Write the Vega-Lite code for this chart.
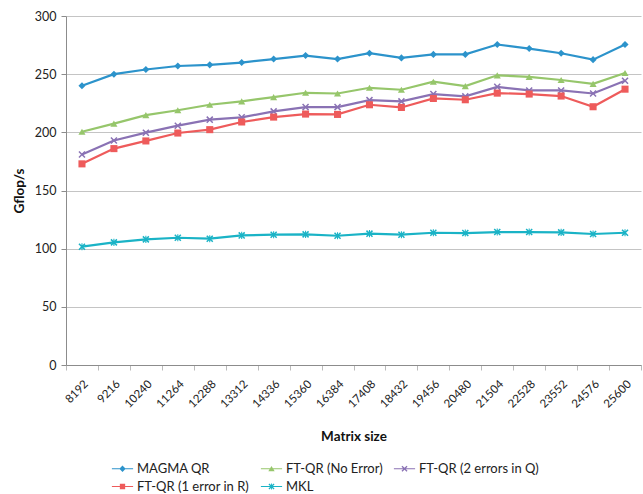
{
  "$schema": "https://vega.github.io/schema/vega-lite/v6.json",
  "width": 575,
  "height": 349,
  "autosize": {"type": "none"},
  "padding": {"left": 66, "top": 16, "right": 2, "bottom": 129},
  "background": "white",
  "config": {
    "font": "Lato",
    "view": {"stroke": null},
    "axis": {
      "labelFont": "Lato",
      "titleFont": "Lato",
      "labelColor": "#222",
      "titleColor": "#111",
      "titleFontWeight": "bold",
      "titleFontSize": 13.5,
      "domainColor": "#8c8c8c",
      "gridColor": "#c4c4c4",
      "tickColor": "#bbbbbb"
    },
    "legend": {
      "orient": "none",
      "legendX": 50,
      "legendY": 446,
      "columns": 3,
      "direction": "horizontal",
      "labelFont": "Lato",
      "labelFontSize": 13,
      "labelColor": "#222",
      "columnPadding": 10,
      "rowPadding": 4,
      "symbolSize": 50,
      "symbolStrokeWidth": 0,
      "labelOffset": 8
    }
  },
  "data": {
    "values": [
      {"size": 8192, "series": "MAGMA QR", "value": 240},
      {"size": 9216, "series": "MAGMA QR", "value": 250},
      {"size": 10240, "series": "MAGMA QR", "value": 254},
      {"size": 11264, "series": "MAGMA QR", "value": 257},
      {"size": 12288, "series": "MAGMA QR", "value": 258},
      {"size": 13312, "series": "MAGMA QR", "value": 260},
      {"size": 14336, "series": "MAGMA QR", "value": 263},
      {"size": 15360, "series": "MAGMA QR", "value": 266},
      {"size": 16384, "series": "MAGMA QR", "value": 263},
      {"size": 17408, "series": "MAGMA QR", "value": 268},
      {"size": 18432, "series": "MAGMA QR", "value": 264},
      {"size": 19456, "series": "MAGMA QR", "value": 267},
      {"size": 20480, "series": "MAGMA QR", "value": 267},
      {"size": 21504, "series": "MAGMA QR", "value": 275.5},
      {"size": 22528, "series": "MAGMA QR", "value": 272},
      {"size": 23552, "series": "MAGMA QR", "value": 268},
      {"size": 24576, "series": "MAGMA QR", "value": 262.5},
      {"size": 25600, "series": "MAGMA QR", "value": 275.5},

      {"size": 8192, "series": "FT-QR (No Error)", "value": 200.5},
      {"size": 9216, "series": "FT-QR (No Error)", "value": 207.5},
      {"size": 10240, "series": "FT-QR (No Error)", "value": 214.8},
      {"size": 11264, "series": "FT-QR (No Error)", "value": 219},
      {"size": 12288, "series": "FT-QR (No Error)", "value": 223.7},
      {"size": 13312, "series": "FT-QR (No Error)", "value": 226.6},
      {"size": 14336, "series": "FT-QR (No Error)", "value": 230.3},
      {"size": 15360, "series": "FT-QR (No Error)", "value": 234},
      {"size": 16384, "series": "FT-QR (No Error)", "value": 233.4},
      {"size": 17408, "series": "FT-QR (No Error)", "value": 238.3},
      {"size": 18432, "series": "FT-QR (No Error)", "value": 236.6},
      {"size": 19456, "series": "FT-QR (No Error)", "value": 243.5},
      {"size": 20480, "series": "FT-QR (No Error)", "value": 239.7},
      {"size": 21504, "series": "FT-QR (No Error)", "value": 249},
      {"size": 22528, "series": "FT-QR (No Error)", "value": 247.7},
      {"size": 23552, "series": "FT-QR (No Error)", "value": 245},
      {"size": 24576, "series": "FT-QR (No Error)", "value": 241.7},
      {"size": 25600, "series": "FT-QR (No Error)", "value": 251},

      {"size": 8192, "series": "FT-QR (2 errors in Q)", "value": 181},
      {"size": 9216, "series": "FT-QR (2 errors in Q)", "value": 193},
      {"size": 10240, "series": "FT-QR (2 errors in Q)", "value": 199.7},
      {"size": 11264, "series": "FT-QR (2 errors in Q)", "value": 205.7},
      {"size": 12288, "series": "FT-QR (2 errors in Q)", "value": 210.9},
      {"size": 13312, "series": "FT-QR (2 errors in Q)", "value": 212.9},
      {"size": 14336, "series": "FT-QR (2 errors in Q)", "value": 218},
      {"size": 15360, "series": "FT-QR (2 errors in Q)", "value": 221.7},
      {"size": 16384, "series": "FT-QR (2 errors in Q)", "value": 221.7},
      {"size": 17408, "series": "FT-QR (2 errors in Q)", "value": 227.7},
      {"size": 18432, "series": "FT-QR (2 errors in Q)", "value": 226.6},
      {"size": 19456, "series": "FT-QR (2 errors in Q)", "value": 232.9},
      {"size": 20480, "series": "FT-QR (2 errors in Q)", "value": 230.9},
      {"size": 21504, "series": "FT-QR (2 errors in Q)", "value": 239.1},
      {"size": 22528, "series": "FT-QR (2 errors in Q)", "value": 236},
      {"size": 23552, "series": "FT-QR (2 errors in Q)", "value": 236},
      {"size": 24576, "series": "FT-QR (2 errors in Q)", "value": 233.4},
      {"size": 25600, "series": "FT-QR (2 errors in Q)", "value": 244.3},

      {"size": 8192, "series": "FT-QR (1 error in R)", "value": 172.9},
      {"size": 9216, "series": "FT-QR (1 error in R)", "value": 186},
      {"size": 10240, "series": "FT-QR (1 error in R)", "value": 192.6},
      {"size": 11264, "series": "FT-QR (1 error in R)", "value": 199.4},
      {"size": 12288, "series": "FT-QR (1 error in R)", "value": 202.3},
      {"size": 13312, "series": "FT-QR (1 error in R)", "value": 208.9},
      {"size": 14336, "series": "FT-QR (1 error in R)", "value": 213.1},
      {"size": 15360, "series": "FT-QR (1 error in R)", "value": 215.7},
      {"size": 16384, "series": "FT-QR (1 error in R)", "value": 215.4},
      {"size": 17408, "series": "FT-QR (1 error in R)", "value": 223.7},
      {"size": 18432, "series": "FT-QR (1 error in R)", "value": 221.4},
      {"size": 19456, "series": "FT-QR (1 error in R)", "value": 229.1},
      {"size": 20480, "series": "FT-QR (1 error in R)", "value": 228},
      {"size": 21504, "series": "FT-QR (1 error in R)", "value": 233.7},
      {"size": 22528, "series": "FT-QR (1 error in R)", "value": 232.9},
      {"size": 23552, "series": "FT-QR (1 error in R)", "value": 231.2},
      {"size": 24576, "series": "FT-QR (1 error in R)", "value": 222},
      {"size": 25600, "series": "FT-QR (1 error in R)", "value": 237.1},

      {"size": 8192, "series": "MKL", "value": 101.7},
      {"size": 9216, "series": "MKL", "value": 105.4},
      {"size": 10240, "series": "MKL", "value": 108},
      {"size": 11264, "series": "MKL", "value": 109.4},
      {"size": 12288, "series": "MKL", "value": 108.6},
      {"size": 13312, "series": "MKL", "value": 111.4},
      {"size": 14336, "series": "MKL", "value": 112},
      {"size": 15360, "series": "MKL", "value": 112.3},
      {"size": 16384, "series": "MKL", "value": 111.1},
      {"size": 17408, "series": "MKL", "value": 112.9},
      {"size": 18432, "series": "MKL", "value": 112},
      {"size": 19456, "series": "MKL", "value": 113.7},
      {"size": 20480, "series": "MKL", "value": 113.4},
      {"size": 21504, "series": "MKL", "value": 114.3},
      {"size": 22528, "series": "MKL", "value": 114.3},
      {"size": 23552, "series": "MKL", "value": 114},
      {"size": 24576, "series": "MKL", "value": 112.6},
      {"size": 25600, "series": "MKL", "value": 113.7}
    ]
  },
  "encoding": {
    "x": {
      "field": "size",
      "type": "ordinal",
      "scale": {"type": "band", "paddingInner": 0, "paddingOuter": 0},
      "axis": {
        "title": "Matrix size",
        "labelAngle": -45,
        "labelFontSize": 11.5,
        "labelPadding": 8,
        "tickBand": "extent",
        "tickSize": 5,
        "grid": false,
        "titlePadding": 20
      }
    },
    "y": {
      "field": "value",
      "type": "quantitative",
      "scale": {"domain": [0, 300]},
      "axis": {
        "title": "Gflop/s",
        "values": [0, 50, 100, 150, 200, 250, 300],
        "labelFontSize": 12.5,
        "tickSize": 5,
        "tickColor": "#8c8c8c",
        "labelPadding": 5,
        "titlePadding": 8
      }
    },
    "color": {
      "field": "series",
      "type": "nominal",
      "scale": {
        "domain": ["MAGMA QR", "FT-QR (No Error)", "FT-QR (2 errors in Q)", "FT-QR (1 error in R)", "MKL"],
        "range": ["#2C93CB", "#96C66B", "#8A72B4", "#EE5B5B", "#1AB3C6"]
      },
      "legend": {
        "title": null,
        "encode": {
          "symbols": {
            "update": {
              "fill": {"signal": "scale('color', datum.value)"},
              "shape": {"signal": "datum.value === 'MAGMA QR' ? 'M-3,-0.15L3,-0.15L3,0.15L-3,0.15ZM0,-0.9L0.9,0L0,0.9L-0.9,0Z' : datum.value === 'FT-QR (No Error)' ? 'M-3,-0.15L3,-0.15L3,0.15L-3,0.15ZM0,-0.8L0.9,0.7L-0.9,0.7Z' : datum.value === 'FT-QR (2 errors in Q)' ? 'M-3,-0.15L3,-0.15L3,0.15L-3,0.15ZM-0.85,-0.6L-0.6,-0.85L0,-0.25L0.6,-0.85L0.85,-0.6L0.25,0L0.85,0.6L0.6,0.85L0,0.25L-0.6,0.85L-0.85,0.6L-0.25,0Z' : datum.value === 'FT-QR (1 error in R)' ? 'M-3,-0.15L3,-0.15L3,0.15L-3,0.15ZM-0.75,-0.75L0.75,-0.75L0.75,0.75L-0.75,0.75Z' : 'M-3,-0.15L3,-0.15L3,0.15L-3,0.15ZM-0.85,-0.6L-0.6,-0.85L0,-0.25L0.6,-0.85L0.85,-0.6L0.25,0L0.85,0.6L0.6,0.85L0,0.25L-0.6,0.85L-0.85,0.6L-0.25,0ZM-0.13,-0.85L0.13,-0.85L0.13,0.85L-0.13,0.85Z'"}
            }
          }
        }
      }
    }
  },
  "layer": [
    {"mark": {"type": "line", "strokeWidth": 2.2}},
    {
      "transform": [{"filter": "datum.series === 'MAGMA QR'"}],
      "mark": {"type": "point", "filled": true, "opacity": 1, "size": 50, "shape": "diamond"}
    },
    {
      "transform": [{"filter": "datum.series === 'FT-QR (No Error)'"}],
      "mark": {"type": "point", "filled": true, "opacity": 1, "size": 50, "shape": "triangle-up"}
    },
    {
      "transform": [{"filter": "datum.series === 'FT-QR (2 errors in Q)'"}],
      "mark": {"type": "point", "filled": true, "opacity": 1, "size": 50, "shape": "M-1,-0.7L-0.7,-1L0,-0.3L0.7,-1L1,-0.7L0.3,0L1,0.7L0.7,1L0,0.3L-0.7,1L-1,0.7L-0.3,0Z"}
    },
    {
      "transform": [{"filter": "datum.series === 'FT-QR (1 error in R)'"}],
      "mark": {"type": "point", "filled": true, "opacity": 1, "size": 50, "shape": "square"}
    },
    {
      "transform": [{"filter": "datum.series === 'MKL'"}],
      "mark": {"type": "point", "filled": true, "opacity": 1, "size": 50, "shape": "M-1,-0.7L-0.7,-1L0,-0.3L0.7,-1L1,-0.7L0.3,0L1,0.7L0.7,1L0,0.3L-0.7,1L-1,0.7L-0.3,0ZM-0.15,-1L0.15,-1L0.15,1L-0.15,1Z"}
    }
  ]
}
